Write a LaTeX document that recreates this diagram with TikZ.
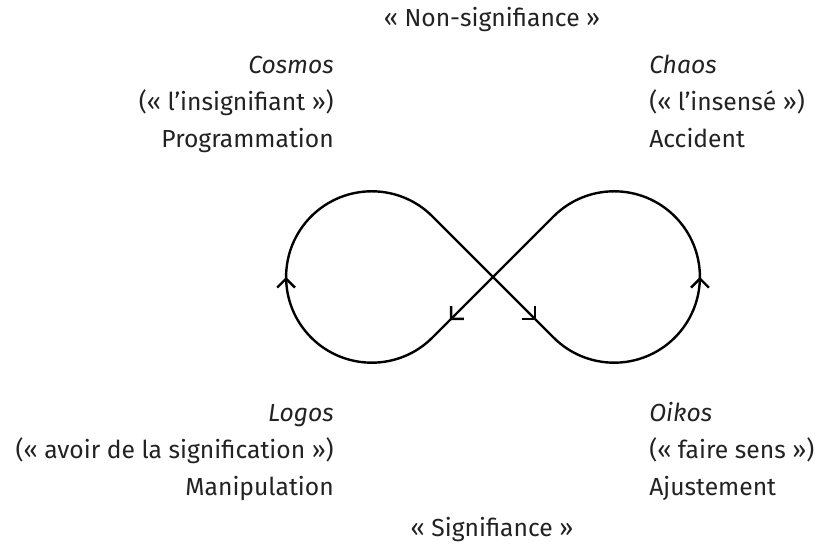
\documentclass[tikz,border=0pt]{standalone}
\usepackage{fontspec}
\setmainfont{Fira Sans}
\usetikzlibrary{arrows.meta,decorations.markings}
\definecolor{inkgray}{HTML}{222222}
\begin{document}
\begin{tikzpicture}[x=0.75pt,y=0.75pt,line cap=round,line join=round,
	lbl/.style={inner sep=0pt,text=inkgray,font=\fontsize{18.5}{18.5}\selectfont},
	loopline/.style={line width=1.8pt,
		postaction={decorate},
		decoration={markings,
			mark=at position 0.053 with {\arrow{Straight Barb[angle=90:9.5pt]}},
			mark=at position 0.25 with {\arrow{Straight Barb[angle=90:9.5pt]}},
			mark=at position 0.553 with {\arrow{Straight Barb[angle=90:9.5pt]}},
			mark=at position 0.75 with {\arrow{Straight Barb[angle=90:9.5pt]}}}}]
	\useasboundingbox (0,0) rectangle (817,548);
	% the loop
	\coordinate (X) at (493,271);
	\draw[loopline] (X) -- (553.6,210.4) arc[start angle=225,end angle=495,radius=85.7]
		-- (432.4,210.4) arc[start angle=-45,end angle=-315,radius=85.7] -- cycle;
	% top and bottom
	\node[lbl,anchor=base] (nonsig) at (492,521) {« Non-signifiance »};
	\node[lbl,anchor=base] (sig) at (492,11) {« Signifiance »};
	% upper left
	\node[lbl,anchor=base east] (cosmos) at (334,474) {\textit{Cosmos}};
	\node[lbl,anchor=base east] (insig) at (334,437) {(« l’insignifiant »)};
	\node[lbl,anchor=base east] (prog) at (334,400) {Programmation};
	% upper right
	\node[lbl,anchor=base west] (chaos) at (649,474) {\textit{Chaos}};
	\node[lbl,anchor=base west] (insense) at (649,437) {(« l’insensé »)};
	\node[lbl,anchor=base west] (accident) at (649,400) {Accident};
	% lower left
	\node[lbl,anchor=base east] (logos) at (334,126) {\textit{Logos}};
	\node[lbl,anchor=base east] (avoir) at (334,89) {(« avoir de la signification »)};
	\node[lbl,anchor=base east] (manip) at (334,52) {Manipulation};
	% lower right
	\node[lbl,anchor=base west] (oikos) at (649,126) {\textit{Oikos}};
	\node[lbl,anchor=base west] (faire) at (649,89) {(« faire sens »)};
	\node[lbl,anchor=base west] (ajust) at (649,52) {Ajustement};
\end{tikzpicture}
\end{document}
